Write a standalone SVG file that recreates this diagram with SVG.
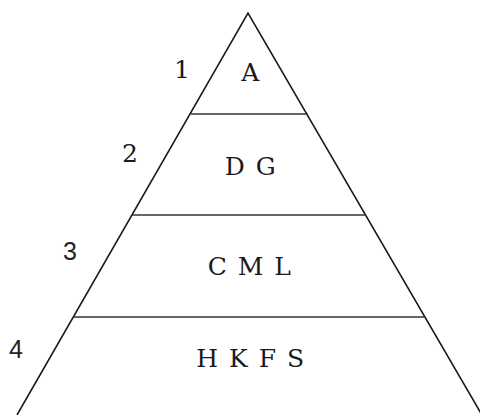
<svg xmlns="http://www.w3.org/2000/svg" width="480" height="415" viewBox="0 0 480 415">
<style>
.ln{stroke:#1a1a1a;stroke-width:1.6;fill:none}
.sep{stroke:#333;stroke-width:1.6}
.lbl{font-family:"DejaVu Serif","Liberation Serif",serif;font-size:25px;fill:#1a1a1a;text-anchor:middle;letter-spacing:1.5px}
.num{font-family:"DejaVu Serif","Liberation Serif",serif;font-size:25px;fill:#1a1a1a}
.nums{font-family:"Liberation Sans","DejaVu Sans",sans-serif;font-size:25px;fill:#222}
</style>
<rect width="480" height="415" fill="#fff"/>
<g id="connectors">
<polyline class="ln" points="17,415 248,13 482,415"/>
<line class="sep" x1="191" y1="114" x2="308" y2="114"/>
<line class="sep" x1="132" y1="215" x2="366" y2="215"/>
<line class="sep" x1="73" y1="317" x2="425" y2="317"/>
</g>
<g id="level1"><text class="num" x="174" y="78">1</text><text class="lbl" x="251" y="81">A</text></g>
<g id="level2"><text class="num" x="122" y="162">2</text><text class="lbl" x="251" y="175">D G</text></g>
<g id="level3"><text class="nums" x="63" y="260">3</text><text class="lbl" x="250" y="275">C M L</text></g>
<g id="level4"><text class="nums" x="9" y="358">4</text><text class="lbl" x="251" y="367">H K F S</text></g>
</svg>
